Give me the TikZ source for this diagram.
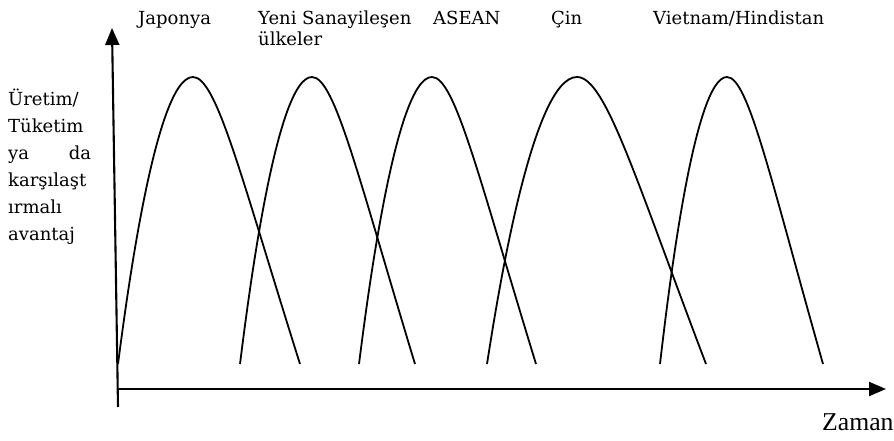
\documentclass[tikz,border=0pt]{standalone}
\usepackage{fontspec}
\setmainfont{DejaVu Serif}
\newfontfamily\zamanfont{Liberation Serif}
\usepackage{tikz}
\usetikzlibrary{arrows.meta,positioning}
\definecolor{ink}{HTML}{000000}

\tikzset{
  axis/.style={line width=2.1pt, draw=ink},
  hump/.style={line width=1.8pt, draw=ink},
  country/.style={inner sep=0pt, anchor=base west, align=left,
    font=\fontsize{18}{21}\selectfont},
}

\begin{document}
\begin{tikzpicture}[x=1pt, y=-1pt]
\useasboundingbox (0,0) rectangle (894,441);
% axes
\coordinate (ybot) at (118,407);
\coordinate (ytop) at (112,28);
\coordinate (orig) at (117,389);
\coordinate (xend) at (886,389);
\draw[axis, -{Triangle[length=17pt,width=14pt]}] (ybot) -- (ytop);
\draw[axis, -{Triangle[length=17pt,width=14pt]}] (orig) -- (xend);
% life cycle humps (left foot / peak / right foot)
\foreach \lf/\pk/\rf in {118/193/300, 240/312/415, 359/432/536, 487/577/706, 660/727/823}{
  \pgfmathsetmacro{\ca}{\pk+0.22*(\rf-\pk)}
  \pgfmathsetmacro{\cb}{\pk+0.45*(\rf-\pk)}
  \draw[hump] (\lf,364) parabola[bend at end] (\pk,77)
    .. controls (\ca,77) and (\cb,177.5) .. (\rf,364);}
% country labels
\node[country] (japonya) at (138,25) {Japonya};
\node[country] (yeni) at (258,46) {Yeni Sanayileşen\\ülkeler};
\node[country] (asean) at (433,25) {ASEAN};
\node[country] (cin) at (551,25) {Çin};
\node[country] (vietnam) at (653,25) {Vietnam/Hindistan};
% axis labels
\node[country, text width=83pt, font=\fontsize{18}{27}\selectfont] (ylbl) at (8,106)
  {Üretim/\\Tüketim\\ya\hfill da\\karşılaşt\\ırmalı\\avantaj};
\node[inner sep=0pt, anchor=base west, font=\zamanfont\fontsize{25.7}{30}\selectfont] (zaman) at (822,430) {Zaman};
\end{tikzpicture}
\end{document}
